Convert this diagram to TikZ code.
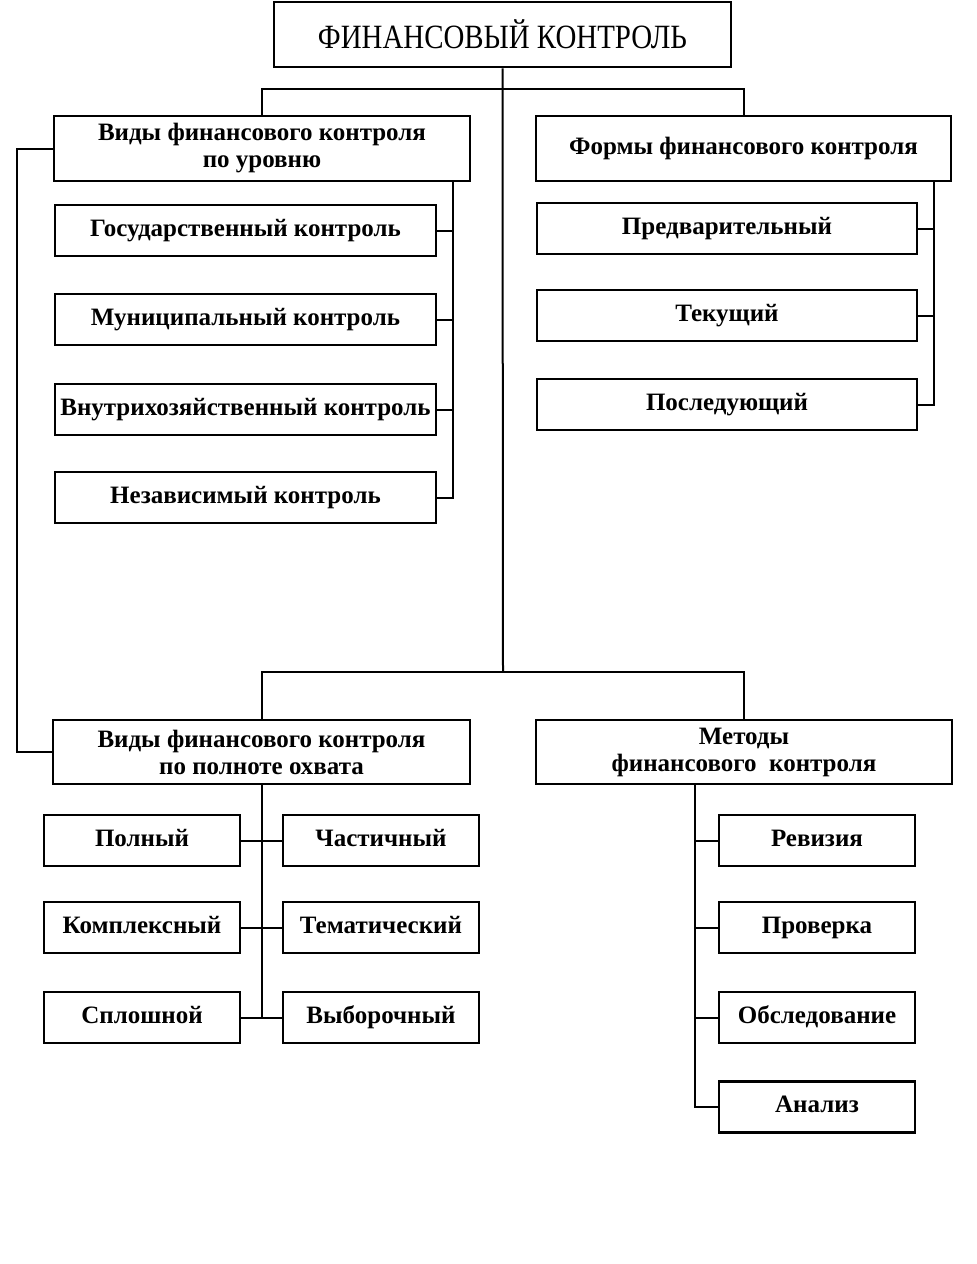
\documentclass[tikz,border=0pt]{standalone}
\usepackage{fontspec}
\setmainfont{Liberation Serif}
\newfontfamily\titlefont[FakeStretch=0.85]{Liberation Serif}
\usepackage{tikz}
\usetikzlibrary{calc}

\begin{document}
\begin{tikzpicture}[x=0.5pt,y=-0.5pt,
					box/.style={draw, line width=1.4pt, inner sep=0pt, align=center, font=\fontsize{12.5}{14}\selectfont\bfseries},
					head/.style={box, minimum width=208pt, minimum height=32.5pt, font=\fontsize{12.5}{13.5}\selectfont\bfseries},
					item/.style={box, minimum width=190.5pt, minimum height=25.5pt, text height=1.5ex, text depth=0.3ex},
					small/.style={item, minimum width=98pt},
					line/.style={line width=1pt}]
    \useasboundingbox (0,0) rectangle (976,1264);
    % Place nodes
    \node [box, minimum width=228.5pt, minimum height=32.5pt, font=\titlefont\fontsize{17}{20}\selectfont] (title) at (502.5,34.5){ФИНАНСОВЫЙ КОНТРОЛЬ};
    \node [head] (L1) at (262,148.5){Виды финансового контроля\\по уровню};
    \node [head, minimum width=207.5pt, text height=1.5ex, text depth=0.3ex] (R1) at (743.5,148.5){Формы финансового контроля};
    \node [item] (s1) at (245.5,230.5){Государственный контроль};
    \node [item] (s2) at (245.5,319.5){Муниципальный контроль};
    \node [item] (s3) at (245.5,409.5){Внутрихозяйственный контроль};
    \node [item] (s4) at (245.5,497.5){Независимый контроль};
    \node [item, minimum width=190pt] (f1) at (727,228.5){Предварительный};
    \node [item, minimum width=190pt] (f2) at (727,315.5){Текущий};
    \node [item, minimum width=190pt] (f3) at (727,404.5){Последующий};
    \node [head, minimum width=208.5pt, minimum height=32pt] (L2) at (261.5,752){Виды финансового контроля\\по полноте охвата};
    \node [head, minimum height=32pt] (R2) at (744,752){Методы\\финансового\ \ контроля};
    \node [small] (p1) at (142,840.5){Полный};
    \node [small] (p2) at (142,927.5){Комплексный};
    \node [small] (p3) at (142,1017.5){Сплошной};
    \node [small] (c1) at (381,840.5){Частичный};
    \node [small] (c2) at (381,927.5){Тематический};
    \node [small] (c3) at (381,1017.5){Выборочный};
    \node [small] (m1) at (817,840.5){Ревизия};
    \node [small] (m2) at (817,927.5){Проверка};
    \node [small] (m3) at (817,1017.5){Обследование};
    \node [small] (m4) at (817,1107){Анализ};
    \coordinate (busA) at (503,89);
    \coordinate (busB) at (503,672);
    \coordinate (ladL) at (453,181);
    \coordinate (ladR) at (934,181);
    \coordinate (ladM) at (695,784);
    % Draw edges
    \draw[line] (title.south) -- (busB);
    \draw[line] (L1.north) |- (busA) -| (R1.north);
    \draw[line] (L2.north) |- (busB) -| (R2.north);
    \draw[line] (L1.west) -- ++(-36,0) |- (L2.west);
    \draw[line] (ladL) |- (s4.east);
    \draw[line] (s1.east) -- (s1.east -| ladL);
    \draw[line] (s2.east) -- (s2.east -| ladL);
    \draw[line] (s3.east) -- (s3.east -| ladL);
    \draw[line] (ladR) |- (f3.east);
    \draw[line] (f1.east) -- (f1.east -| ladR);
    \draw[line] (f2.east) -- (f2.east -| ladR);
    \draw[line] (L2.south) -- (L2.south |- p3.east);
    \draw[line] (p1.east) -- (c1.west);
    \draw[line] (p2.east) -- (c2.west);
    \draw[line] (p3.east) -- (c3.west);
    \draw[line] (ladM) |- (m4.west);
    \draw[line] (m1.west) -- (m1.west -| ladM);
    \draw[line] (m2.west) -- (m2.west -| ladM);
    \draw[line] (m3.west) -- (m3.west -| ladM);
\end{tikzpicture}
\end{document}
